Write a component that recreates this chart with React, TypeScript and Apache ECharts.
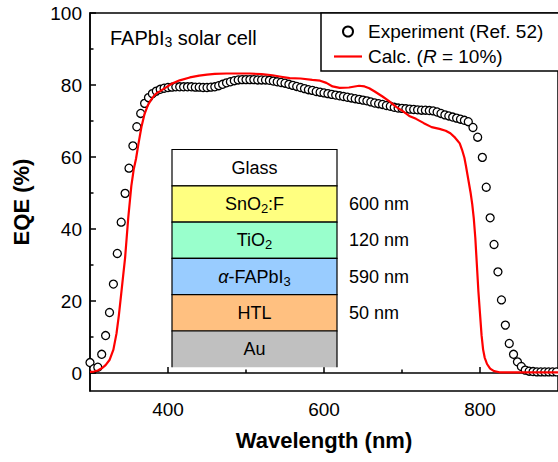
import React, { useEffect, useRef } from "react";
import * as echarts from "echarts";

const FONT = '"Liberation Sans", Arial, Helvetica, sans-serif';

// Experiment (circles): wavelength (nm) and EQE (%)
const expWavelength = [
  300, 305, 310, 315, 320, 325, 330, 335, 340, 345, 350, 355, 360, 365, 370, 375, 380, 385, 390, 395,
  400, 405, 410, 415, 420, 425, 430, 435, 440, 445, 450, 455, 460, 465, 470, 475, 480, 485, 490, 495,
  500, 505, 510, 515, 520, 525, 530, 535, 540, 545, 550, 555, 560, 565, 570, 575, 580, 585, 590, 595,
  600, 605, 610, 615, 620, 625, 630, 635, 640, 645, 650, 655, 660, 665, 670, 675, 680, 685, 690, 695,
  700, 705, 710, 715, 720, 725, 730, 735, 740, 745, 750, 755, 760, 765, 770, 775, 780, 785, 791, 797,
  803, 808, 813, 818, 823, 827.5, 832.5, 837.5, 843, 848, 853, 858, 863, 868, 873, 878, 883, 888, 893, 898,
];
const expEQE = [
  2.9, 1.2, 1.6, 5.2, 10.4, 16.8, 24.7, 33.2, 41.9, 49.9, 56.9, 63.1, 68.4, 72.1, 74.9, 76.5, 77.6, 78.3, 78.8, 79.1,
  79.3, 79.4, 79.5, 79.5, 79.5, 79.5, 79.5, 79.4, 79.4, 79.3, 79.3, 79.4, 79.5, 79.8, 80.2, 80.6, 80.9, 81.2, 81.4, 81.5,
  81.5, 81.5, 81.5, 81.4, 81.4, 81.4, 81.3, 81.1, 80.9, 80.7, 80.5, 80.2, 79.9, 79.6, 79.3, 79.0, 78.7, 78.5, 78.2, 78.0,
  77.8, 77.6, 77.4, 77.2, 77.0, 76.8, 76.6, 76.4, 76.2, 76.0, 75.8, 75.6, 75.3, 75.0, 74.8, 74.6, 74.3, 74.1, 73.8, 73.6,
  73.5, 73.4, 73.3, 73.2, 73.1, 73.0, 73.0, 72.9, 72.8, 72.5, 72.1, 71.7, 71.4, 71.1, 70.8, 70.5, 70.2, 69.8, 68.2, 65.5,
  59.9, 51.6, 43.1, 35.7, 28.1, 20.3, 13.3, 8.2, 5.2, 3.1, 1.8, 0.8, 0.5, 0.4, 0.3, 0.3, 0.3, 0.3, 0.3, 0.3,
];

// Calculation (red line)
const calcWavelength = [
  300, 305, 310, 315, 320, 325, 330, 334, 337, 340, 343, 345, 347, 349, 351, 353, 356, 359, 362, 366,
  370, 374, 378, 382, 386, 390, 395, 400, 406, 415, 428, 440, 450, 460, 475, 490, 505, 520, 534, 545,
  556, 570, 585, 595, 603, 611, 620, 632, 645, 652, 658, 665, 675, 683, 692, 700, 705, 710, 718, 728,
  738, 748, 756, 762, 767, 771, 774, 777, 780, 782, 784, 786, 788, 790, 792, 794, 796, 798, 800, 802,
  804, 806, 809, 813, 818, 825, 900,
];
const calcEQE = [
  0.3, 0.4, 0.7, 1.3, 2.2, 3.6, 6.5, 11, 16, 22, 28, 32, 37.5, 43, 47.5, 52, 56.5, 59.5, 63.5, 68.4,
  72, 74.3, 75.8, 77, 77.8, 78.3, 79, 79.7, 80.5, 81.3, 82.1, 82.6, 82.9, 83.1, 83.2, 83.2, 83.2, 83, 82.7, 82.3,
  81.9, 81.8, 81.4, 81.2, 80.6, 79.6, 79.2, 79.3, 79.8, 79.6, 79.1, 78.2, 76.8, 75.6, 74, 72.9, 72.1, 71.3, 70.6, 69.4,
  68.3, 67.8, 67.3, 66.6, 65.6, 64.6, 63.8, 62, 59.8, 57.5, 55, 52.5, 50, 47, 43, 37.5, 30, 22.5, 16.5, 10.5,
  6.5, 4.3, 2.5, 1.2, 0.5, 0.2, 0.2,
];

const xTicks = [400, 600, 800];
const xMinorTicks = [500, 700];
const yTicks = [0, 20, 40, 60, 80, 100];
const yMinorTicks = [10, 30, 50, 70, 90];

const expName = "Experiment (Ref. 52)";
const calcName = "Calc. (R = 10%)";

// Device stack inset
const layerLabels = [
  "{a|Glass}",
  "{a|SnO}{s|2}{a|:F}",
  "{a|TiO}{s|2}",
  "{i|α}{a|-FAPbI}{s|3}",
  "{a|HTL}",
  "{a|Au}",
];
const layerColors = ["#ffffff", "#ffff80", "#99ffcc", "#99ccff", "#ffc080", "#c0c0c0"];
const layerThickness = ["", "600 nm", "120 nm", "590 nm", "50 nm", ""];

const richText = {
  a: { fontSize: 18, fontFamily: FONT, color: "#000", lineHeight: 22, verticalAlign: "middle" },
  i: { fontSize: 18, fontFamily: FONT, fontStyle: "italic", color: "#000", lineHeight: 22, verticalAlign: "middle" },
  s: { fontSize: 13, fontFamily: FONT, color: "#000", lineHeight: 12, verticalAlign: "bottom" },
};

export default function App() {
  const ref = useRef<HTMLDivElement>(null);

  useEffect(() => {
    if (!ref.current) return;
    const chart = echarts.init(ref.current, undefined, { renderer: "svg" });

    const expData = expWavelength.map((x, i) => [x, expEQE[i]]);
    const calcData = calcWavelength.map((x, i) => [x, calcEQE[i]]);

    const stackX = 172;
    const stackW = 165;
    const stackTop = 149.5;
    const rowH = 36.3;

    const graphics: any[] = [];
    // legend frame
    graphics.push({
      type: "rect",
      z: 3,
      shape: { x: 321, y: 13, width: 260, height: 58 },
      style: { fill: "#fff", stroke: "#000", lineWidth: 1.5 },
    });
    // title text
    graphics.push({
      type: "text",
      z: 5,
      x: 110,
      y: 38,
      style: {
        text: "{a|FAPbI}{s|3}{a| solar cell}",
        rich: {
          a: { fontSize: 20, fontFamily: FONT, color: "#000", lineHeight: 22, verticalAlign: "middle" },
          s: { fontSize: 14, fontFamily: FONT, color: "#000", lineHeight: 12, verticalAlign: "bottom" },
        },
        align: "left",
        verticalAlign: "middle",
      },
    });
    layerLabels.forEach((lab, i) => {
      const y = stackTop + i * rowH;
      const isLast = i === layerLabels.length - 1;
      graphics.push({
        type: "rect",
        z: 3,
        shape: { x: stackX, y, width: stackW, height: rowH },
        style: { fill: layerColors[i], stroke: isLast ? null : "#000", lineWidth: 1.2 },
      });
      if (isLast) {
        graphics.push({
          type: "polyline",
          z: 4,
          shape: { points: [[stackX, y + rowH], [stackX, y], [stackX + stackW, y], [stackX + stackW, y + rowH]] },
          style: { fill: null, stroke: "#000", lineWidth: 1.2 },
        });
      }
      graphics.push({
        type: "text",
        z: 5,
        x: stackX + stackW / 2,
        y: y + rowH / 2,
        style: { text: lab, rich: richText, align: "center", verticalAlign: "middle" },
      });
      if (layerThickness[i]) {
        graphics.push({
          type: "text",
          z: 5,
          x: 349,
          y: y + rowH / 2,
          style: {
            text: layerThickness[i],
            fontSize: 18,
            fontFamily: FONT,
            fill: "#000",
            align: "left",
            verticalAlign: "middle",
          },
        });
      }
    });

    const axisLineStyle = { color: "#000", width: 1.5 };

    chart.setOption({
      animation: false,
      grid: {
        left: 90,
        top: 13,
        right: -3,
        bottom: 71,
        show: true,
        borderColor: "#000",
        borderWidth: 1.5,
        backgroundColor: "transparent",
      },
      legend: {
        orient: "vertical",
        left: 329,
        top: 17,
        itemWidth: 28,
        itemHeight: 10,
        itemGap: 6,
        z: 6,
        data: [
          { name: expName, itemStyle: { borderWidth: 2, color: "#fff", borderColor: "#000" } },
          { name: calcName, icon: "path://M0,0H28V2.2H0Z", itemStyle: { color: "#ff0000" } },
        ],
        formatter: (name: string) =>
          name === calcName ? "{n|Calc. (}{i|R}{n| = 10%)}" : "{n|" + name + "}",
        textStyle: {
          fontFamily: FONT,
          fontSize: 19,
          color: "#000",
          padding: [0, 0, 0, 1],
          rich: {
            n: { fontFamily: FONT, fontSize: 19, color: "#000", lineHeight: 20 },
            i: { fontFamily: FONT, fontSize: 19, fontStyle: "italic", color: "#000", lineHeight: 20 },
          },
        },
      },
      xAxis: [
        {
          type: "value",
          min: 300,
          max: 900,
          position: "bottom",
          name: "Wavelength (nm)",
          nameLocation: "middle",
          nameGap: 38,
          nameTextStyle: { fontFamily: FONT, fontSize: 22, fontWeight: "bold", color: "#000" },
          axisLine: { show: true, lineStyle: axisLineStyle },
          axisTick: { show: true, inside: true, length: 6, customValues: xTicks, lineStyle: axisLineStyle },
          axisLabel: { customValues: xTicks, fontFamily: FONT, fontSize: 19, color: "#000", margin: 9 },
          splitLine: { show: false },
        },
        {
          type: "value",
          min: 300,
          max: 900,
          position: "bottom",
          axisLine: { show: false },
          axisTick: { show: true, inside: true, length: 3.5, customValues: xMinorTicks, lineStyle: axisLineStyle },
          axisLabel: { show: false },
          splitLine: { show: false },
        },
      ],
      yAxis: [
        {
          type: "value",
          min: -5,
          max: 100,
          position: "left",
          name: "EQE (%)",
          nameLocation: "middle",
          nameGap: 58,
          nameTextStyle: { fontFamily: FONT, fontSize: 22, fontWeight: "bold", color: "#000" },
          axisLine: { show: true, lineStyle: axisLineStyle },
          axisTick: { show: true, inside: true, length: 6, customValues: yTicks, lineStyle: axisLineStyle },
          axisLabel: { customValues: yTicks, fontFamily: FONT, fontSize: 19, color: "#000", margin: 8 },
          splitLine: { show: false },
        },
        {
          type: "value",
          min: -5,
          max: 100,
          position: "left",
          axisLine: { show: false },
          axisTick: { show: true, inside: true, length: 3.5, customValues: yMinorTicks, lineStyle: axisLineStyle },
          axisLabel: { show: false },
          splitLine: { show: false },
        },
      ],
      series: [
        {
          name: expName,
          type: "scatter",
          data: expData,
          symbol: "circle",
          symbolSize: 8,
          itemStyle: { color: "#fff", borderColor: "#000", borderWidth: 1.3, opacity: 1 },
          z: 2,
        },
        {
          name: calcName,
          type: "line",
          data: calcData,
          showSymbol: false,
          symbol: "none",
          lineStyle: { color: "#ff0000", width: 2.2 },
          itemStyle: { color: "#ff0000" },
          z: 3,
        },
      ],
      graphic: graphics,
    });

    return () => chart.dispose();
  }, []);

  return (
    <div
      ref={ref}
      style={{ position: "fixed", left: 0, top: 0, width: 558, height: 462, background: "#fff" }}
    />
  );
}
